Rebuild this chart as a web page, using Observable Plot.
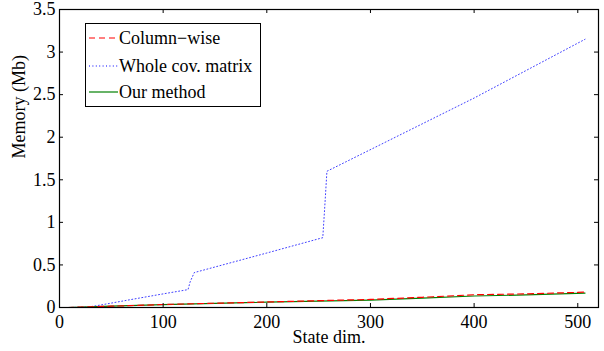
<!DOCTYPE html>
<html>
<head>
<meta charset="utf-8">
<script src="https://cdn.jsdelivr.net/npm/d3@7"></script>
<script src="https://cdn.jsdelivr.net/npm/@observablehq/plot@0.6"></script>
<style>
  html, body { margin: 0; padding: 0; background: #fff; }
  #wrap { position: relative; width: 604px; height: 351px; font-family: "Liberation Serif", "Times New Roman", serif; }
  #legend { position: absolute; left: 85px; top: 23px; width: 176px; height: 84px; border: 1px solid #000; background: #fff; box-sizing: border-box; font-size: 18px; }
  .row { position: absolute; left: 3px; height: 20px; display: flex; align-items: center; }
  .row svg { width: 29px; height: 20px; }
  .row span { margin-left: 1px; white-space: nowrap; }
</style>
</head>
<body>
<div id="wrap"></div>
<script>
// State dimension values and memory (Mb) for each method
const wholeX = [8, 20, 28, 40, 72, 100, 124, 126, 130, 200, 254, 256, 258, 400, 507];
const wholeY = [0, 0.003, 0.006, 0.03, 0.1, 0.16, 0.21, 0.3, 0.41, 0.64, 0.82, 1.2, 1.6, 2.46, 3.15];

const colX = [8, 50, 100, 150, 200, 250, 300, 350, 400, 450, 507];
const colY = [0, 0.015, 0.035, 0.05, 0.065, 0.08, 0.095, 0.12, 0.15, 0.16, 0.18];

const ourX = [8, 50, 100, 150, 200, 250, 300, 350, 400, 450, 507];
const ourY = [0, 0.015, 0.034, 0.048, 0.062, 0.075, 0.087, 0.11, 0.135, 0.148, 0.17];

const seriesNames = ["Column\u2212wise", "Whole cov. matrix", "Our method"];
const seriesColors = ["#ff0000", "#0000ff", "#008000"];
const seriesDash = ["6,4", "1,2.4", null];

const xTicks = [0, 100, 200, 300, 400, 500];
const yTicks = [0, 0.5, 1, 1.5, 2, 2.5, 3, 3.5];

const toRows = (xs, ys) => xs.map((x, i) => ({x, y: ys[i]}));
const colData = toRows(colX, colY);
const wholeData = toRows(wholeX, wholeY);
const ourData = toRows(ourX, ourY);

const W = 604, H = 351, mL = 59, mR = 6, mT = 9, mB = 44;
const innerW = W - mL - mR, innerH = H - mT - mB;
const tickLen = 4;

const fmt = d => String(d);
const font = {fontSize: 18, fontFamily: "Liberation Serif"};

const chart = Plot.plot({
  width: W,
  height: H,
  marginLeft: mL,
  marginRight: mR,
  marginTop: mT,
  marginBottom: mB,
  style: {fontFamily: "Liberation Serif", fontSize: "18px", color: "#000", background: "#fff", overflow: "visible"},
  x: {domain: [0, 520]},
  y: {domain: [0, 3.5]},
  marks: [
    Plot.line(wholeData, {x: "x", y: "y", stroke: seriesColors[1], strokeWidth: 1, strokeDasharray: seriesDash[1], strokeOpacity: 0.75}),
    Plot.line(ourData, {x: "x", y: "y", stroke: seriesColors[2], strokeWidth: 1.2}),
    Plot.line(colData, {x: "x", y: "y", stroke: seriesColors[0], strokeWidth: 1.2, strokeDasharray: seriesDash[0]}),
    // tick labels
    Plot.axisX({anchor: "bottom", ticks: xTicks, tickSize: 0, tickPadding: 8, tickFormat: fmt, label: null, ...font}),
    Plot.axisY({anchor: "left", ticks: yTicks, tickSize: 0, tickPadding: 4, tickFormat: fmt, label: null, ...font}),
    // inward ticks on all four sides
    Plot.tickX(xTicks, {x: d => d, insetTop: innerH - tickLen, stroke: "#000"}),
    Plot.tickX(xTicks, {x: d => d, insetBottom: innerH - tickLen, stroke: "#000"}),
    Plot.tickY(yTicks, {y: d => d, insetRight: innerW - tickLen, stroke: "#000"}),
    Plot.tickY(yTicks, {y: d => d, insetLeft: innerW - tickLen, stroke: "#000"}),
    Plot.frame({stroke: "#000", strokeWidth: 1.2}),
    Plot.text(["State dim."], {frameAnchor: "bottom", dy: 30, lineAnchor: "middle", text: d => d, ...font, fill: "#000"}),
    Plot.text(["Memory (Mb)"], {frameAnchor: "left", dx: -40, rotate: -90, text: d => d, ...font, fill: "#000"})
  ]
});

const wrap = document.getElementById("wrap");
wrap.appendChild(chart);

const legend = document.createElement("div");
legend.id = "legend";
const rowTops = [4, 32, 58];
seriesNames.forEach((name, i) => {
  const row = document.createElement("div");
  row.className = "row";
  row.style.top = rowTops[i] + "px";
  const dash = seriesDash[i] ? `stroke-dasharray="${seriesDash[i]}"` : "";
  row.innerHTML = `<svg viewBox="0 0 29 20"><line x1="0" x2="29" y1="10" y2="10" stroke="${seriesColors[i]}" stroke-width="1.2" ${dash}/></svg><span>${name}</span>`;
  legend.appendChild(row);
});
wrap.appendChild(legend);
</script>
</body>
</html>
